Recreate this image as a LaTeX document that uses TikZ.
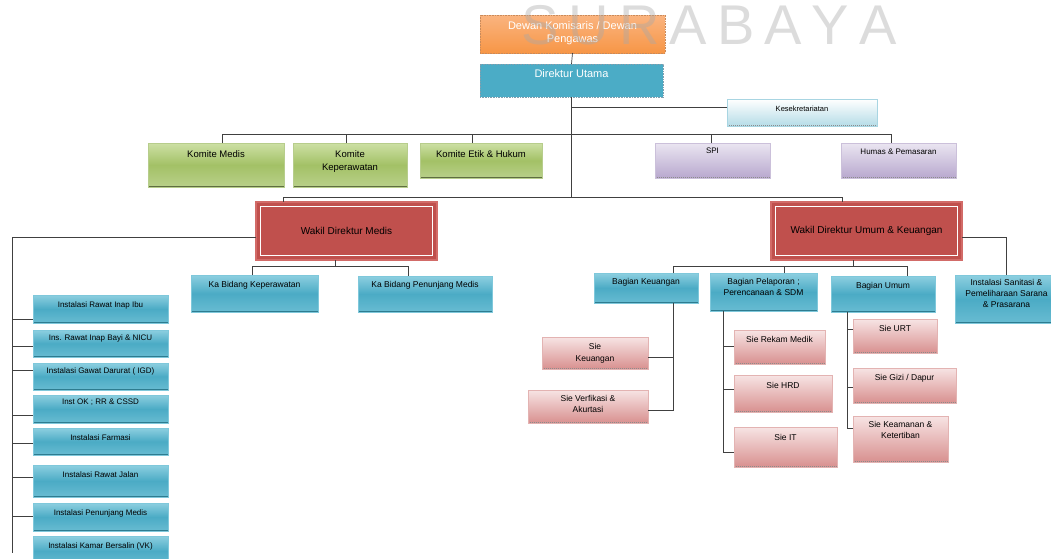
\documentclass[tikz,border=0pt]{standalone}
\usepackage{fontspec}
\setmainfont{Liberation Sans}
\definecolor{lineg}{HTML}{404040}
\definecolor{orTop}{HTML}{FAB47F}
\definecolor{orBot}{HTML}{F79646}
\definecolor{orEdge}{HTML}{C98A5A}
\definecolor{duFill}{HTML}{4BACC6}
\definecolor{duEdge}{HTML}{7F9FAF}
\definecolor{bTop}{HTML}{8DCFE0}
\definecolor{bMid}{HTML}{4BABC5}
\definecolor{bBot}{HTML}{68BCD2}
\definecolor{bEdge}{HTML}{7FC8DB}
\definecolor{bShadow}{HTML}{2E7C90}
\definecolor{gTop}{HTML}{CDE0A5}
\definecolor{gMid}{HTML}{A3C166}
\definecolor{gBot}{HTML}{B9D08A}
\definecolor{gEdge}{HTML}{B7CD8C}
\definecolor{gShadow}{HTML}{5E6E40}
\definecolor{pTop}{HTML}{EAE5F1}
\definecolor{pBot}{HTML}{B8A8CE}
\definecolor{pEdge}{HTML}{CBC0DA}
\definecolor{rFill}{HTML}{C0504D}
\definecolor{rEdge}{HTML}{D26B68}
\definecolor{kTop}{HTML}{FFFFFF}
\definecolor{kBot}{HTML}{B5DCE7}
\definecolor{kEdge}{HTML}{A8D5E2}
\definecolor{sTop}{HTML}{F7E4E4}
\definecolor{sBot}{HTML}{D8908F}
\definecolor{sEdge}{HTML}{E3B3B2}
\definecolor{dotg}{HTML}{8C8C8C}
\definecolor{wmg}{HTML}{A8A8A8}
\newcommand{\fsz}[2]{\fontsize{#1}{#2}\selectfont}
\newcommand{\bx}[8]{\node[#1, minimum width={#5pt-#3pt}, minimum height={#6pt-#4pt}, label={[txt,#7]north:{#8}}] (#2) at ({(#3+#5)/2},{(#4+#6)/2}) {};}
\tikzset{
 conn/.style={draw=lineg, line width=0.7pt},
 base/.style={rectangle, inner sep=0pt, outer sep=0pt},
 txt/.style={inner sep=0pt, outer sep=0pt, anchor=north, align=center, text=black},
 shadowline/.style={path picture={\draw[#1, line width=2pt] (path picture bounding box.south west) -- (path picture bounding box.south east);}},
 dotline/.style={path picture={\draw[#1, line width=1.6pt, dash pattern=on 1pt off 1pt] (path picture bounding box.south west) -- (path picture bounding box.south east);}},
 orangebox/.style={base, top color=orTop, bottom color=orBot, draw=orEdge, line width=0.6pt, dash pattern=on 1pt off 0.6pt},
 dutbox/.style={base, fill=duFill, draw=duEdge, line width=0.6pt, dash pattern=on 1pt off 0.6pt},
 kesbox/.style={base, top color=kTop, bottom color=kBot, draw=kEdge, line width=0.5pt, dotline=dotg},
 greenbox/.style={base, top color=gTop, bottom color=gBot, middle color=gMid, draw=gEdge, line width=0.5pt, shadowline=gShadow},
 purplebox/.style={base, top color=pTop, bottom color=pBot, draw=pEdge, line width=0.5pt, dotline=dotg},
 bluebox/.style={base, top color=bTop, bottom color=bBot, middle color=bMid, draw=bEdge, line width=0.5pt, shadowline=bShadow},
 pinkbox/.style={base, top color=sTop, bottom color=sBot, draw=sEdge, line width=0.5pt, dotline=dotg},
 redbox/.style={base, fill=rFill, draw=rEdge, line width=1.5pt, font=\fsz{10}{12}, text=black,
   path picture={\draw[white, line width=0.8pt] ([shift={(4.5pt,-4.5pt)}]path picture bounding box.north west) rectangle ([shift={(-4.5pt,4.5pt)}]path picture bounding box.south east);}},
 wmstyle/.style={inner sep=0pt, outer sep=0pt, text=wmg, text opacity=0.4, font=\fsz{56}{60}}
}
\begin{document}
\begin{tikzpicture}[x=1pt,y=-1pt]
\path[use as bounding box, fill=white] (0,0) rectangle (1051,558);

% top
\bx{orangebox}{dewan}{480}{15}{665}{53}{font=\fsz{11}{13}, text=white, yshift=-7pt}{Dewan Komisaris / Dewan\\Pengawas}
\bx{dutbox}{dirut}{480}{64}{663}{97}{font=\fsz{11}{13}, text=white, yshift=-6pt}{Direktur Utama}
\bx{kesbox}{kesek}{727}{99}{877}{126}{font=\fsz{7.5}{9}, yshift=-7pt}{Kesekretariatan}

% committees
\bx{greenbox}{km}{148}{143}{284}{187}{font=\fsz{9.5}{12.5}, yshift=-8pt}{Komite Medis}
\bx{greenbox}{kk}{293}{143}{407}{187}{font=\fsz{9.5}{12.5}, yshift=-8pt}{Komite\\Keperawatan}
\bx{greenbox}{ke}{420}{143}{542}{178}{font=\fsz{9.5}{12.5}, yshift=-8pt}{Komite Etik \& Hukum}
\bx{purplebox}{spi}{655}{143}{770}{178}{font=\fsz{8}{10}, yshift=-5pt}{SPI}
\bx{purplebox}{hum}{841}{143}{956}{178}{font=\fsz{8}{10}, yshift=-6pt}{Humas \& Pemasaran}

% vice directors
\node[redbox, minimum width=181pt, minimum height=58pt] (wm) at (346.5,231) {Wakil Direktur Medis};
\node[redbox, minimum width=191pt, minimum height=58pt] (wu) at (866.5,231) {Wakil Direktur Umum \& Keuangan};

% left column
\bx{bluebox}{i1}{33}{295}{168}{323}{font=\fsz{8}{10}, yshift=-7pt}{Instalasi Rawat Inap Ibu}
\bx{bluebox}{i2}{33}{330}{168}{357}{font=\fsz{8}{10}, yshift=-5pt}{Ins. Rawat Inap Bayi \& NICU}
\bx{bluebox}{i3}{33}{363}{168}{390}{font=\fsz{8}{10}, yshift=-5pt}{Instalasi Gawat Darurat ( IGD)}
\bx{bluebox}{i4}{33}{395}{168}{423}{font=\fsz{8}{10}, yshift=-4pt}{Inst OK ; RR \& CSSD}
\bx{bluebox}{i5}{33}{428}{168}{455}{font=\fsz{8}{10}, yshift=-7pt}{Instalasi Farmasi}
\bx{bluebox}{i6}{33}{465}{168}{497}{font=\fsz{8}{10}, yshift=-7pt}{Instalasi Rawat Jalan}
\bx{bluebox}{i7}{33}{503}{168}{531}{font=\fsz{8}{10}, yshift=-7pt}{Instalasi Penunjang Medis}
\bx{bluebox}{i8}{33}{536}{168}{566}{font=\fsz{8}{10}, yshift=-7pt}{Instalasi Kamar Bersalin (VK)}

% ka bidang
\bx{bluebox}{kbk}{191}{275}{318}{312}{font=\fsz{8.5}{11}, yshift=-6pt}{Ka Bidang Keperawatan}
\bx{bluebox}{kbp}{358}{276}{492}{312}{font=\fsz{8.5}{11}, yshift=-5pt}{Ka Bidang Penunjang Medis}

% bagian
\bx{bluebox}{bk}{594}{273}{698}{303}{font=\fsz{8.5}{11}, yshift=-5pt}{Bagian Keuangan}
\bx{bluebox}{bp}{710}{273}{817}{311}{font=\fsz{8.5}{11}, yshift=-5pt}{Bagian Pelaporan ;\\Perencanaan \& SDM}
\bx{bluebox}{bu}{831}{276}{935}{312}{font=\fsz{8.5}{11}, yshift=-6pt}{Bagian Umum}
\bx{bluebox}{is}{955}{275}{1058}{323}{font=\fsz{8.5}{11}, yshift=-4pt}{Instalasi Sanitasi \&\\Pemeliharaan Sarana\\\& Prasarana}

% sie
\bx{pinkbox}{sk}{542}{337}{648}{369}{font=\fsz{8.5}{12}, yshift=-6pt}{Sie\\Keuangan}
\bx{pinkbox}{sv}{528}{390}{648}{423}{font=\fsz{8.5}{11.5}, yshift=-5pt}{Sie Verfikasi \&\\Akurtasi}
\bx{pinkbox}{srm}{734}{330}{825}{364}{font=\fsz{8.5}{11}, yshift=-6pt}{Sie Rekam Medik}
\bx{pinkbox}{hrd}{734}{375}{832}{412}{font=\fsz{8.5}{11}, yshift=-7pt}{Sie HRD}
\bx{pinkbox}{sit}{734}{427}{837}{467}{font=\fsz{8.5}{11}, yshift=-7pt}{Sie IT}
\bx{pinkbox}{urt}{853}{319}{937}{353}{font=\fsz{8.5}{11}, yshift=-6pt}{Sie URT}
\bx{pinkbox}{gizi}{853}{368}{956}{403}{font=\fsz{8.5}{11}, yshift=-6pt}{Sie Gizi / Dapur}
\bx{pinkbox}{keam}{853}{416}{948}{462}{font=\fsz{8.5}{11}, yshift=-5pt}{Sie Keamanan \&\\Ketertiban}

% helper coordinates
\coordinate (ybus1) at (0,134);
\coordinate (ybus2) at (0,197);
\coordinate (ybus3) at (0,266);
\coordinate (spineL) at (12,237);

% connectors top
\draw[conn] (dewan.south) -- (dirut.north);
\draw[conn] (dirut.south) -- (dirut.south |- ybus2);
\draw[conn] ([yshift=5.5pt]kesek.west) -- ([yshift=5.5pt]kesek.west -| dirut.south);
\draw[conn] ([xshift=6pt]km.north) -- ([xshift=6pt]km.north |- ybus1) -- ([xshift=-7pt]hum.north |- ybus1) -- ([xshift=-7pt]hum.north);
\draw[conn] ([xshift=-4pt]kk.north) -- ([xshift=-4pt]kk.north |- ybus1);
\draw[conn] ([xshift=-9pt]ke.north) -- ([xshift=-9pt]ke.north |- ybus1);
\draw[conn] ([xshift=-1.5pt]spi.north) -- ([xshift=-1.5pt]spi.north |- ybus1);
\draw[conn] ([xshift=-63.5pt]wm.north) -- ([xshift=-63.5pt]wm.north |- ybus2) -- ([xshift=-24.5pt]wu.north |- ybus2) -- ([xshift=-24.5pt]wu.north);

% left spine
\draw[conn] ([yshift=-6pt]wm.west) -| ([yshift=-2pt]i8.west -| spineL);
\draw[conn] ([yshift=-10pt]i1.west) -- ([yshift=-10pt]i1.west -| spineL);
\draw[conn] ([yshift=-2.5pt]i2.west) -- ([yshift=-2.5pt]i2.west -| spineL);
\draw[conn] ([yshift=6.5pt]i3.west) -- ([yshift=6.5pt]i3.west -| spineL);
\draw[conn] ([yshift=-6pt]i4.west) -- ([yshift=-6pt]i4.west -| spineL);
\draw[conn] ([yshift=-1.5pt]i5.west) -- ([yshift=-1.5pt]i5.west -| spineL);
\draw[conn] ([yshift=4pt]i6.west) -- ([yshift=4pt]i6.west -| spineL);
\draw[conn] ([yshift=1pt]i7.west) -- ([yshift=1pt]i7.west -| spineL);

% wakil medis children
\draw[conn] ([xshift=-11.5pt]wm.south) -- ([xshift=-11.5pt]wm.south |- ybus3);
\draw[conn] ([xshift=-2.5pt]kbk.north) -- ([xshift=-2.5pt]kbk.north |- ybus3) -- ([xshift=-17pt]kbp.north |- ybus3) -- ([xshift=-17pt]kbp.north);

% wakil umum children
\draw[conn] ([xshift=-13.5pt]wu.south) -- ([xshift=-13.5pt]wu.south |- ybus3);
\draw[conn] ([xshift=27pt]bk.north) -- ([xshift=27pt]bk.north |- ybus3) -- ([xshift=24pt]bu.north |- ybus3) -- ([xshift=24pt]bu.north);
\draw[conn] ([xshift=20.5pt]bp.north) -- ([xshift=20.5pt]bp.north |- ybus3);
\draw[conn] ([yshift=-6pt]wu.east) -| (is.north);

% bagian keuangan
\coordinate (bkx) at ([xshift=27pt]bk.south);
\coordinate (sve) at ([yshift=-3.5pt]sv.east);
\coordinate (ske) at ([yshift=-4pt]sk.east);
\draw[conn] (bkx) -- (bkx |- sve) -- (sve);
\draw[conn] (ske) -- (ske -| bkx);

% bagian pelaporan
\coordinate (bpx) at ([xshift=-40.5pt]bp.south);
\coordinate (site) at ([yshift=-5pt]sit.west);
\coordinate (srme) at ([yshift=1pt]srm.west);
\coordinate (hrde) at ([yshift=4.5pt]hrd.west);
\draw[conn] (bpx) -- (bpx |- site) -- (site);
\draw[conn] (srme) -- (srme -| bpx);
\draw[conn] (hrde) -- (hrde -| bpx);

% bagian umum
\coordinate (bux) at ([xshift=-36pt]bu.south);
\coordinate (keame) at ([yshift=11pt]keam.west);
\coordinate (urte) at ([yshift=7pt]urt.west);
\coordinate (gizie) at ([yshift=-1.5pt]gizi.west);
\draw[conn] (bux) -- (bux |- keame) -- (keame);
\draw[conn] (urte) -- (urte -| bux);
\draw[conn] (gizie) -- (gizie -| bux);

% watermark
\node[wmstyle, anchor=north] (wmk) at (709,5) {S\hspace{10pt}U\hspace{10pt}R\hspace{10pt}A\hspace{10pt}B\hspace{10pt}A\hspace{10pt}Y\hspace{10pt}A};
\end{tikzpicture}
\end{document}
